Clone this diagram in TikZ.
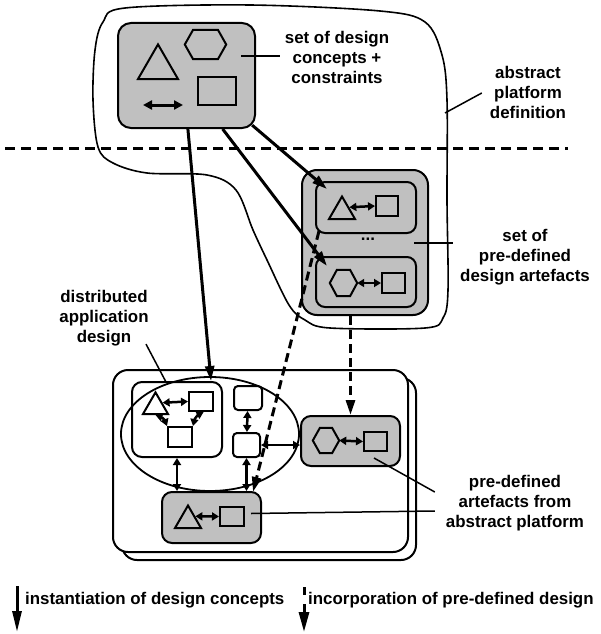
\documentclass[tikz,border=0pt]{standalone}
\usepackage{fontspec}
\setmainfont{Liberation Sans}
\usetikzlibrary{arrows.meta,shapes.geometric,calc}
\definecolor{boxgray}{RGB}{192,192,192}
\newcommand\hexdraw[2]{\draw[line width=2pt] (#1.west) -- ($(#1.north west)!#2!(#1.north east)$) -- ($(#1.north east)!#2!(#1.north west)$) -- (#1.east) -- ($(#1.south east)!#2!(#1.south west)$) -- ($(#1.south west)!#2!(#1.south east)$) -- cycle;}
\begin{document}
\begin{tikzpicture}[x=1pt,y=-1pt,
  lbl/.style={font=\fontsize{16.9}{20}\selectfont\bfseries, align=center, inner sep=0pt},
  graybox/.style={draw, line width=2pt, fill=boxgray, rectangle, rounded corners=10pt, inner sep=0pt},
  whitebox/.style={draw, line width=2pt, rectangle, rounded corners=10pt, inner sep=0pt},
  tri/.style={draw, line width=2pt, regular polygon, regular polygon sides=3, inner sep=0pt},
  sq/.style={draw, line width=2pt, rectangle, inner sep=0pt},
  hexn/.style={rectangle, inner sep=0pt},
  dbl/.style={line width=2.5pt, {Triangle[length=7pt,width=8pt]}-{Triangle[length=7pt,width=8pt]}},
  conn/.style={line width=3pt, -{Triangle[length=15pt,width=9pt]}},
  dconn/.style={line width=3pt, dash pattern=on 9pt off 5pt, -{Triangle[length=15pt,width=9pt]}},
  thinl/.style={line width=1.5pt}
]
\useasboundingbox (0,0) rectangle (600,634);

% abstract platform outline
\draw[line width=1.6pt] plot[smooth cycle, tension=0.55] coordinates {
 (125,8) (250,5) (380,11) (425,22) (442,55) (447,100) (447,200) (448,290)
 (443,318) (425,328) (330,328) (305,320) (289,305) (267,260) (253,230)
 (236,190) (207,175) (147,173) (113,163) (98,147) (93,100) (95,50) (103,22)};

% dashed separator
\coordinate (dl) at (5,148);
\coordinate (dr) at (568,148);
\draw[line width=3pt, dash pattern=on 10pt off 6pt] (dl) -- (dr);

% top box: design concepts
\node[graybox, rounded corners=13pt, minimum width=137pt, minimum height=105pt] (top) at (186.5,75.5) {};
\node[tri, minimum size=46.2pt] (T0) at (158,67.5) {};
\node[hexn, minimum width=41pt, minimum height=29pt] (H0) at (205.5,44.5) {};
\hexdraw{H0}{0.2}
\node[sq, minimum width=38pt, minimum height=28pt] (R0) at (217,91) {};
\coordinate (D0a) at (143,105);
\coordinate (D0b) at (183,105);
\draw[line width=3pt, {Triangle[length=9pt,width=9pt]}-{Triangle[length=9pt,width=9pt]}] (D0a) -- (D0b);
\node[lbl] (L1) at (337,57) {set of design\\concepts +\\constraints};
\draw[thinl] ($(top.east)+(-15,-19.5)$) -- ($(L1.west)+(-5,-1)$);

% abstract platform label
\node[lbl] (L5) at (528,92) {abstract\\platform\\definition};
\coordinate (bp) at (445,113);
\draw[thinl] (bp) -- ($(L5.west)+(-8,1)$);

% artefacts box
\node[graybox, rounded corners=15pt, minimum width=126pt, minimum height=145pt] (AB) at (365,242.5) {};
\node[whitebox, rounded corners=9pt, minimum width=100pt, minimum height=51pt] (I1) at (366,207.5) {};
\node[whitebox, rounded corners=9pt, minimum width=100pt, minimum height=50pt] (I2) at (366,282) {};
\node[tri, minimum size=30pt] (T1) at (342,211.5) {};
\node[sq, minimum width=22pt, minimum height=20pt] (R1) at (387,206) {};
\draw[dbl] ($(T1.corner 1)!0.5!(T1.corner 3)$) -- (R1.west);
\node[hexn, minimum width=27pt, minimum height=26pt] (H1) at (343.5,283) {};
\hexdraw{H1}{0.26}
\node[sq, minimum width=23pt, minimum height=20pt] (R2) at (393.5,283) {};
\draw[dbl] (H1.east) -- (R2.west);
\node[lbl] (dots) at (368,239) {...};
\node[lbl] (L2) at (525,257) {set of\\pre-defined\\design artefacts};
\draw[thinl] ($(AB.east)+(-15,0.5)$) -- ($(L2.west)+(-7,-14)$);

% bottom container
\node[whitebox, line width=2pt, fill=white, rounded corners=15pt, minimum width=294pt, minimum height=182pt] (BK) at (269,469) {};
\node[whitebox, line width=2pt, fill=white, rounded corners=15pt, minimum width=295pt, minimum height=182pt] (FR) at (260.5,461) {};

% distributed application design
\node[whitebox, minimum width=90pt, minimum height=75pt] (IB) at (177,419.5) {};
\node[tri, minimum size=28.9pt] (T2) at (155.5,406.8) {};
\node[sq, minimum width=24pt, minimum height=19pt] (Q1) at (201,401.5) {};
\node[sq, minimum width=24pt, minimum height=20pt] (Q2) at (180,437) {};
\draw[dbl] ($(T2.corner 1)!0.5!(T2.corner 3)$) -- (Q1.west);
\draw[dbl] ($(T2.corner 2)!0.5!(T2.corner 3)$) to[bend left=25] (Q2.north west);
\draw[dbl] ($(Q1.south west)!0.6!(Q1.south east)$) to[bend right=25] (Q2.north east);
\node[sq, rounded corners=4pt, minimum width=28pt, minimum height=24pt] (SA) at (248,398) {};
\node[sq, rounded corners=4pt, minimum width=27pt, minimum height=24pt] (SB) at (246.5,445) {};
\draw[dbl] (SA) -- (SB);
\node[draw, ellipse, line width=1.8pt, minimum width=178pt, minimum height=114pt, inner sep=0pt] (EL) at (210,434) {};

% hexagon box (pre-defined artefact)
\node[graybox, minimum width=99pt, minimum height=50pt] (HB) at (350.5,441) {};
\node[hexn, minimum width=26pt, minimum height=25pt] (H3) at (326,440.5) {};
\hexdraw{H3}{0.27}
\node[sq, minimum width=23pt, minimum height=19pt] (R3) at (375.5,441.5) {};
\draw[dbl] (H3.east) -- (R3.west);
\draw[dbl] (SB.east) -- (HB.west |- SB.east);

% bottom gray box
\node[graybox, minimum width=99pt, minimum height=51pt] (BG) at (211.5,517.5) {};
\node[tri, minimum size=30pt] (T4) at (188,520.5) {};
\node[sq, minimum width=24pt, minimum height=19pt] (R4) at (232,516.5) {};
\draw[dbl] ($(T4.corner 1)!0.5!(T4.corner 3)$) -- (R4.west);
\draw[dbl] (IB.south) -- (IB.south |- BG.north);
\draw[dbl] (SB.south) -- (SB.south |- BG.north);

% labels of lower part
\node[lbl] (L4) at (104,318) {distributed\\application\\design};
\draw[thinl] ($(L4.south)+(42,-2)$) -- ($(IB.north west)+(35,1)$);
\node[lbl] (L3) at (515,503) {pre-defined\\artefacts from\\abstract platform};
\draw[thinl] ($(BG.east)+(-11,-4)$) -- ($(L3.west)+(-11,8)$);
\draw[thinl] ($(HB.south east)+(-27,-9)$) -- ($(L3.west)+(-11,-11)$);

% instantiation connectors
\draw[conn] ($(top.south west)!0.51!(top.south east)$) -- ($(IB.north west)!0.87!(IB.north east)$);
\draw[conn] ($(top.south west)!0.76!(top.south east)$) -- ($(I2.north west)+(12,10)$);
\draw[conn] ($(top.south east)+(-3.8,-3.8)$) -- ($(I1.north west)+(12,8)$);

% incorporation connectors
\draw[dconn] ($(I1.south west)+(4,-3)$) -- ($(BG.north east)+(-9,1)$);
\draw[dconn] (HB.north |- AB.south) -- (HB.north);

% legend
\coordinate (la1) at (17,586);
\coordinate (la2) at (17,632);
\draw[line width=3pt, -{Triangle[length=21pt,width=9pt]}] (la1) -- (la2);
\node[lbl, anchor=west] (LG1) at (25,600) {instantiation of design concepts};
\coordinate (lb1) at (304,587);
\coordinate (lb2) at (304,632);
\draw[line width=3pt, dash pattern=on 8pt off 9pt, -{Triangle[length=20pt,width=10pt]}] (lb1) -- (lb2);
\node[lbl, anchor=west] (LG2) at (308,600) {incorporation of pre-defined design};
\end{tikzpicture}
\end{document}
